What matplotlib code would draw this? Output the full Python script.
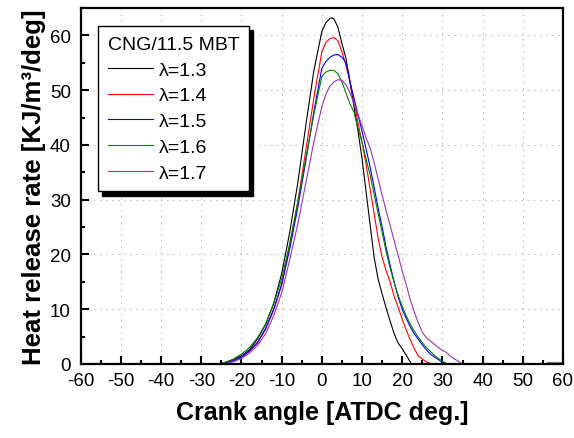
import numpy as np
import matplotlib.pyplot as plt
from matplotlib.ticker import MultipleLocator

plt.rcParams['font.family'] = ['Liberation Sans', 'DejaVu Sans']
plt.rcParams['axes.unicode_minus'] = False

# lambda = 1.3
x13 = [-25.4, -22, -20, -18, -16, -14, -12, -10, -8, -6, -4, -2, 0, 1, 2, 2.5, 3, 4, 5, 6, 7, 8, 9, 10,
       11, 12, 13, 14, 15, 16, 17, 18, 19, 20, 21, 22.3]
y13 = [0, 0.8, 1.5, 2.6, 4.6, 7.2, 11.0, 16.5, 24.0, 33.0, 43.5, 53.5, 60.7, 62.3, 63.1, 63.2, 63.0, 61.5,
       58.5, 55.8, 51.5, 47.0, 42.5, 37.5, 31.5, 25.5, 19.5, 15.5, 12.8, 10.2, 7.8, 5.5, 3.8, 2.8, 1.6, 0]

# lambda = 1.4
x14 = [-25, -22, -20, -18, -16, -14, -12, -10, -8, -6, -4, -2, 0, 1, 2, 3, 4, 5, 6, 7, 8, 9, 10,
       11, 12, 13, 14, 15, 16, 17, 18, 19, 20, 21, 22, 23, 24, 25, 26, 27.3]
y14 = [0, 0.6, 1.2, 2.3, 3.8, 6.3, 9.8, 14.5, 21.5, 29.5, 39.0, 48.5, 57.0, 58.7, 59.4, 59.6, 59.0, 57.0,
       54.5, 51.5, 48.0, 44.0, 40.5, 36.5, 32.0, 27.5, 23.0, 19.5, 17.0, 15.0, 12.3, 10.3, 8.2, 6.2, 4.4,
       2.8, 1.5, 0.9, 0.4, 0]

# lambda = 1.5
x15 = [-25, -22, -20, -18, -16, -14, -12, -10, -8, -6, -4, -2, 0, 1, 2, 3, 4, 5, 6, 6.5, 7, 8, 9, 10,
       11, 12, 13, 14, 15, 16, 17, 18, 19, 20, 21, 22, 23, 24, 25, 26, 27, 28, 29, 30, 31]
y15 = [0, 0.6, 1.3, 2.4, 4.0, 6.5, 10.0, 14.5, 21.0, 28.5, 37.0, 46.0, 54.0, 55.2, 56.0, 56.4, 56.5, 56.0,
       55.0, 53.5, 51.5, 48.5, 45.5, 42.5, 39.3, 36.0, 32.3, 28.5, 25.0, 21.3, 18.0, 15.0, 12.2, 10.0, 8.3,
       6.8, 5.5, 4.5, 3.5, 2.6, 1.8, 1.3, 0.8, 0.3, 0]

# lambda = 1.6
x16 = [-25, -22, -20, -18, -16, -14, -12, -10, -8, -6, -4, -2, 0, 1, 2, 3, 4, 5, 6, 7, 8, 9, 10,
       11, 12, 13, 14, 15, 16, 17, 18, 19, 20, 21, 22, 23, 24, 25, 26, 27, 28, 29, 30, 31.3]
y16 = [0, 0.9, 1.8, 3.0, 4.8, 7.3, 11.0, 15.5, 22.0, 29.5, 37.5, 45.5, 52.5, 53.3, 53.6, 53.6, 53.0, 51.5,
       49.5, 47.5, 46.0, 43.0, 40.5, 37.5, 34.5, 31.0, 27.5, 24.0, 20.5, 17.5, 14.8, 12.5, 10.5, 8.8, 7.3,
       6.0, 4.9, 3.9, 3.0, 2.3, 1.6, 1.0, 0.5, 0]

# lambda = 1.7
x17 = [-24.5, -22, -20, -18, -16, -14, -12, -10, -8, -6, -4, -2, 0, 1, 2, 3, 4, 5, 6, 7, 8, 9, 10,
       11, 12, 13, 14, 15, 16, 17, 18, 19, 20, 21, 22, 23, 24, 25, 26, 27, 28, 29, 30, 31, 32, 33, 34, 34.8]
y17 = [0, 0.4, 1.0, 2.0, 3.4, 5.5, 8.8, 13.0, 19.0, 25.5, 33.0, 40.5, 47.0, 49.2, 50.7, 51.5, 51.9, 51.8,
       51.0, 49.5, 47.5, 45.5, 43.5, 41.3, 39.5, 36.8, 33.8, 30.8, 28.0, 25.3, 22.5, 19.8, 17.0, 14.5, 11.7,
       9.5, 7.5, 5.8, 4.8, 4.2, 3.6, 3.0, 2.5, 2.1, 1.4, 0.9, 0.5, 0]

tail_x = [56, 60]
tail_y = [0, 0]

fig = plt.figure(figsize=(5.74, 4.39), dpi=100)
ax = fig.add_axes([0.1406, 0.1686, 0.8402, 0.811])

ax.plot(x13, y13, color='black', lw=0.8, label='λ=1.3')
ax.plot(x14, y14, color='red', lw=0.8, label='λ=1.4')
ax.plot(x15, y15, color='blue', lw=0.8, label='λ=1.5')
ax.plot(x16, y16, color='#008000', lw=0.8, label='λ=1.6')
ax.plot(x17, y17, color='#9933bb', lw=0.8, label='λ=1.7')
ax.plot(tail_x, tail_y, color='gray', lw=3, solid_capstyle='butt')

ax.set_xlim(-60, 60)
ax.set_ylim(0, 65)
ax.xaxis.set_major_locator(MultipleLocator(10))
ax.xaxis.set_minor_locator(MultipleLocator(5))
ax.yaxis.set_major_locator(MultipleLocator(10))
ax.yaxis.set_minor_locator(MultipleLocator(5))
ax.tick_params(which='both', direction='in', top=False, right=False, width=1.5, labelsize=13.5)
ax.tick_params(which='major', length=6)
ax.tick_params(which='minor', length=3)
ax.tick_params(axis='x', which='major', pad=5.5)
ax.tick_params(axis='y', which='major', pad=7)
for s in ax.spines.values():
    s.set_linewidth(1.6)
ax.grid(True, which='major', linestyle=(0, (1.5, 4)), color='#c0c0c0', lw=0.8)

ax.set_xlabel('Crank angle [ATDC deg.]', fontsize=18, fontweight='bold', labelpad=8)
ax.set_ylabel('Heat release rate [KJ/m³/deg]', fontsize=18.5, fontweight='bold', labelpad=3)

leg = ax.legend(title='CNG/11.5 MBT', loc='upper left', bbox_to_anchor=(0.036, 0.949),
                borderaxespad=0, fontsize=14, title_fontsize=14, fancybox=False, edgecolor='black',
                shadow={'color': 'black', 'alpha': 1, 'ox': 3, 'oy': -3},
                handlelength=2.3, handletextpad=0.35, labelspacing=0.42, borderpad=0.5,
                alignment='left')
leg.get_frame().set_linewidth(1.0)

fig.savefig('out.png', dpi=100)
